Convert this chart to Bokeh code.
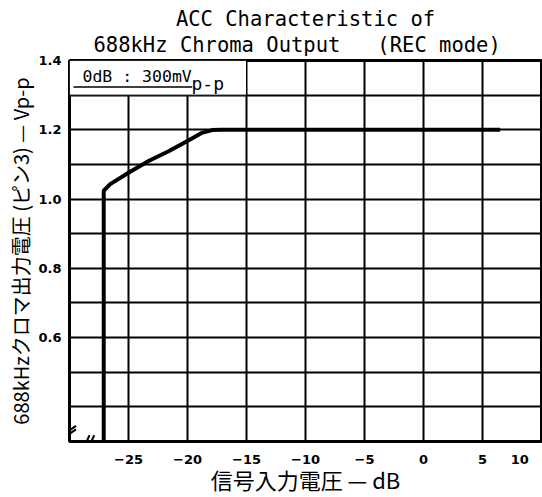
from bokeh.plotting import figure
from bokeh.models import FixedTicker, Label, Range1d, NumeralTickFormatter, Title
from bokeh.embed import file_html
from bokeh.resources import INLINE

# ---- data ----
input_db = [-27.1, -27.1, -26.55, -25.0, -23.3, -21.6, -20.2, -18.8, -17.9, -17.1, 6.5]
output_vpp = [0.30, 1.024, 1.043, 1.076, 1.110, 1.138, 1.164, 1.191, 1.199, 1.20, 1.20]

x_ticks = [-25, -20, -15, -10, -5, 0, 5, 10]
x_grid = [-30, -25, -20, -15, -10, -5, 0, 5, 10]
y_ticks = [0.6, 0.8, 1.0, 1.2, 1.4]
y_grid = [0.3, 0.4, 0.5, 0.6, 0.7, 0.8, 0.9, 1.0, 1.1, 1.2, 1.3, 1.4]

title_1 = "ACC Characteristic of"
title_2 = "688kHz Chroma Output\u00a0\u00a0\u00a0(REC mode)"
x_label = "信号入力電圧 — dB"
y_label = "688kHzクロマ出力電圧 (ピン3) — Vp-p"
note_main = "0dB : 300mV"
note_sub = "p-p"

# note box (top-left row of cells), its text and the axis-break marks
note_box = dict(left=-30, right=-15, bottom=1.3, top=1.4)
note_pos = (-28.9, 1.354)
note_sub_pos = (-19.66, 1.335)
note_underline = dict(x0=-29.66, x1=-19.6, y0=1.3235, y1=1.3235)
break_left = dict(x0=[-30.0, -30.0], x1=[-29.45, -29.45], y0=[0.332, 0.322], y1=[0.345, 0.335])
break_bottom = dict(x0=[-28.55, -28.15], x1=[-28.3, -27.9], y0=[0.30, 0.30], y1=[0.318, 0.318])

p = figure(width=542, height=497, x_range=Range1d(-30, 10), y_range=Range1d(0.3, 1.4),
           output_backend="svg", toolbar_location=None, title=None,
           min_border_left=69, min_border_right=1, min_border_top=60, min_border_bottom=53)

p.add_layout(Title(text=title_2, align="left", offset=24, text_font="DejaVu Sans Mono",
                   text_font_size="20.5px", text_font_style="normal", text_color="black",
                   standoff=8), "above")
p.add_layout(Title(text=title_1, align="center", text_font="DejaVu Sans Mono",
                   text_font_size="20.5px", text_font_style="normal", text_color="black",
                   standoff=-8), "above")

p.outline_line_color = "black"
p.outline_line_width = 3
p.outline_line_alpha = 1

p.xaxis.ticker = FixedTicker(ticks=x_ticks)
# the last label sits against the right edge: pad it so its digits stay inside the canvas
p.xaxis.major_label_overrides = {10: "10\u00a0\u00a0\u00a0"}
p.yaxis.ticker = FixedTicker(ticks=y_ticks)
p.yaxis.formatter = NumeralTickFormatter(format="0.0")
p.xgrid.ticker = FixedTicker(ticks=x_grid)
p.ygrid.ticker = FixedTicker(ticks=y_grid)
for g in (p.xgrid, p.ygrid):
    g.grid_line_color = "black"
    g.grid_line_width = 2
    g.grid_line_alpha = 1

for ax in (p.xaxis, p.yaxis):
    ax.axis_line_color = None
    ax.major_tick_line_color = None
    ax.minor_tick_line_color = None
    ax.major_tick_out = 0
    ax.major_tick_in = 0
    ax.minor_tick_out = 0
    ax.minor_tick_in = 0
    ax.major_label_text_font = "DejaVu Sans"
    ax.major_label_text_font_style = "bold"
    ax.major_label_text_font_size = "13px"
    ax.major_label_text_color = "black"
    ax.axis_label_text_font = "Noto Sans CJK JP"
    ax.axis_label_text_font_style = "normal"
    ax.axis_label_text_color = "black"

p.xaxis.axis_label = x_label
p.yaxis.axis_label = y_label
p.xaxis.axis_label_text_font_size = "22px"
p.yaxis.axis_label_text_font_size = "20px"
p.xaxis.major_label_standoff = 10
p.yaxis.major_label_standoff = 8
p.xaxis.axis_label_standoff = -7
p.yaxis.axis_label_standoff = 0

# note box covering the top-left cells
p.quad(**note_box, fill_color="white", line_color="black", line_width=1)
p.segment(**note_underline, line_color="black", line_width=1.5)
p.add_layout(Label(x=note_pos[0], y=note_pos[1], text=note_main, text_baseline="alphabetic",
                   text_font="DejaVu Sans Mono", text_font_size="16.5px", text_color="black"))
p.add_layout(Label(x=note_sub_pos[0], y=note_sub_pos[1], text=note_sub, text_baseline="alphabetic",
                   text_font="DejaVu Sans Mono", text_font_size="18px", text_color="black"))

# curve
p.line(input_db, output_vpp, line_color="black", line_width=4)

# axis break marks
p.segment(**break_left, line_color="black", line_width=2)
p.segment(**break_bottom, line_color="black", line_width=2)

open("out.html", "w").write(file_html(p, INLINE))
